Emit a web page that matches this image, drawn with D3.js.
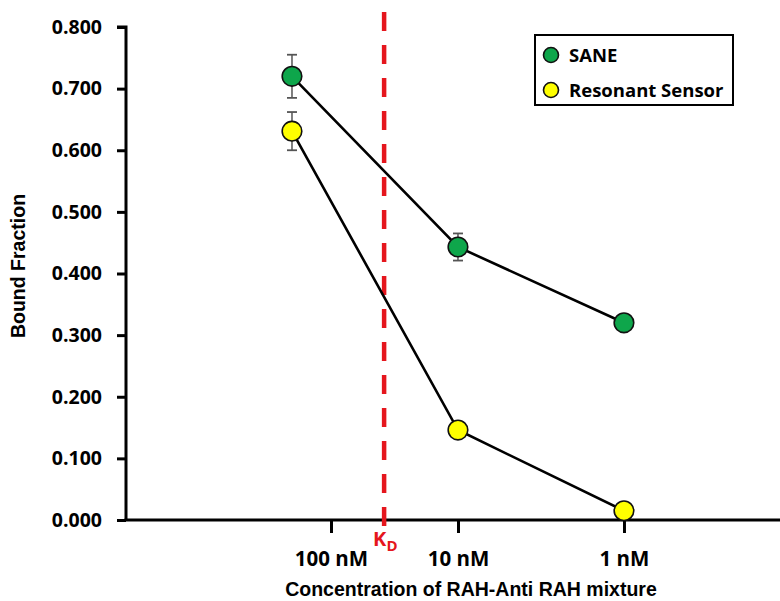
<!DOCTYPE html>
<html>
<head>
<meta charset="utf-8">
<script src="https://cdn.jsdelivr.net/npm/d3@7"></script>
<style>
  html, body { margin: 0; padding: 0; background: #ffffff; }
  svg { display: block; }
</style>
</head>
<body>
<svg id="chart" width="780" height="601"></svg>
<script>
// ---- data ----
const categories = ["100 nM", "10 nM", "1 nM"];
const pointPos = [1, 2, 3];              // x positions of the measured points
const tickPos = [1.235, 2, 3];           // x positions of the category tick marks
const kdPos = 1.555;                     // position of the K_D marker
const seriesNames = ["SANE", "Resonant Sensor"];
const saneValues = [0.720, 0.443, 0.320];
const saneErrors = [0.035, 0.022, 0.0];
const resonantValues = [0.631, 0.146, 0.015];
const resonantErrors = [0.031, 0.0, 0.0];
const yTicks = [0, 0.1, 0.2, 0.3, 0.4, 0.5, 0.6, 0.7, 0.8];
const colors = ["#0ea64b", "#ffff00"];

// ---- layout ----
const svg = d3.select("#chart");
const x = d3.scaleLinear().domain([0, 3.94]).range([126, 780]);
const y = d3.scaleLinear().domain([0, 0.8]).range([520, 27]);

const tickFont = "'Open Sans', sans-serif";
const labelFont = "'Liberation Sans', Arial, sans-serif";

// Y axis
const yAxis = d3.axisLeft(y).tickValues(yTicks).tickFormat(d3.format(".3f")).tickSize(9).tickPadding(15);
const gy = svg.append("g").attr("transform", `translate(${x(0)},0)`).call(yAxis);
gy.select(".domain").attr("stroke", "#000").attr("stroke-width", 3).attr("d", `M-9,${y(0.8)}H0V${y(0)}`);
gy.selectAll(".tick line").attr("stroke", "#000").attr("stroke-width", 3);
gy.selectAll(".tick text")
  .attr("font-family", tickFont).attr("font-weight", "bold").attr("font-size", 19.5)
  .attr("fill", "#000");

// X axis
const xAxis = d3.axisBottom(x).tickValues(tickPos).tickFormat((d, i) => categories[i]).tickSize(13).tickPadding(18);
const gx = svg.append("g").attr("transform", `translate(0,${y(0)})`).call(xAxis);
gx.select(".domain").attr("stroke", "#000").attr("stroke-width", 3).attr("d", `M${x(0) - 1.5},0H780`);
gx.selectAll(".tick line").attr("stroke", "#000").attr("stroke-width", 3);
gx.selectAll(".tick text")
  .attr("font-family", tickFont).attr("font-weight", "bold").attr("font-size", 20.5)
  .attr("fill", "#000");

// Axis titles
svg.append("text")
  .attr("x", 471).attr("y", 596)
  .attr("text-anchor", "middle")
  .attr("font-family", labelFont).attr("font-weight", "bold").attr("font-size", 19.5)
  .attr("fill", "#000")
  .text("Concentration of RAH-Anti RAH mixture");

svg.append("text")
  .attr("transform", `translate(25,266) rotate(-90)`)
  .attr("text-anchor", "middle")
  .attr("font-family", labelFont).attr("font-weight", "bold").attr("font-size", 19.5)
  .attr("fill", "#000")
  .text("Bound Fraction");

// K_D dashed line
svg.append("line")
  .attr("x1", x(kdPos)).attr("x2", x(kdPos))
  .attr("y1", 12).attr("y2", 529)
  .attr("stroke", "#e5161d").attr("stroke-width", 4.5)
  .attr("stroke-dasharray", "19,14");

const kd = svg.append("text")
  .attr("x", x(kdPos) - 11).attr("y", 546)
  .attr("font-family", tickFont).attr("font-weight", "bold").attr("font-size", 20)
  .attr("fill", "#e5161d");
kd.append("tspan").text("K");
kd.append("tspan").attr("dy", 5).attr("font-size", 15).text("D");

// Series
const series = [
  { name: seriesNames[0], values: saneValues, errors: saneErrors, color: colors[0] },
  { name: seriesNames[1], values: resonantValues, errors: resonantErrors, color: colors[1] }
];

const line = d3.line().x((d, i) => x(pointPos[i])).y(d => y(d));

series.forEach(s => {
  svg.append("path")
    .attr("d", line(s.values))
    .attr("fill", "none")
    .attr("stroke", "#000")
    .attr("stroke-width", 2.6);
});

series.forEach(s => {
  const g = svg.append("g");
  s.values.forEach((v, i) => {
    const e = s.errors[i];
    if (e > 0) {
      const cx = x(pointPos[i]);
      g.append("line").attr("x1", cx).attr("x2", cx).attr("y1", y(v + e)).attr("y2", y(v - e))
        .attr("stroke", "#555").attr("stroke-width", 1.5);
      [v + e, v - e].forEach(t => {
        g.append("line").attr("x1", cx - 5).attr("x2", cx + 5).attr("y1", y(t)).attr("y2", y(t))
          .attr("stroke", "#555").attr("stroke-width", 1.8);
      });
    }
  });
});

series.forEach(s => {
  svg.append("g").selectAll("circle")
    .data(s.values)
    .join("circle")
    .attr("cx", (d, i) => x(pointPos[i]))
    .attr("cy", d => y(d))
    .attr("r", 9.8)
    .attr("fill", s.color)
    .attr("stroke", "#111")
    .attr("stroke-width", 1.6);
});

// Legend
const legend = svg.append("g");
legend.append("rect")
  .attr("x", 535).attr("y", 35).attr("width", 198).attr("height", 70)
  .attr("fill", "#fff").attr("stroke", "#000").attr("stroke-width", 2);
series.forEach((s, i) => {
  const cy = 55 + i * 35;
  legend.append("circle")
    .attr("cx", 551).attr("cy", cy).attr("r", 7.5)
    .attr("fill", s.color).attr("stroke", "#111").attr("stroke-width", 1.6);
  legend.append("text")
    .attr("x", 569).attr("y", cy + 7)
    .attr("font-family", tickFont).attr("font-weight", "bold").attr("font-size", 18.5)
    .attr("fill", "#000")
    .text(s.name);
});
</script>
</body>
</html>
